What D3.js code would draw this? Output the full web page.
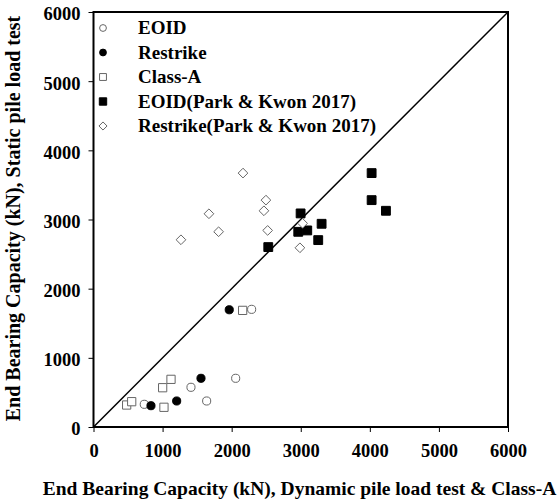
<!DOCTYPE html>
<html>
<head>
<meta charset="utf-8">
<script src="https://cdn.jsdelivr.net/npm/d3@7"></script>
<style>
  html, body { margin: 0; padding: 0; background: #fff; }
  svg text { font-family: "Liberation Serif", "Times New Roman", serif; font-weight: bold; fill: #000; }
</style>
</head>
<body>
<svg id="chart" width="558" height="503"></svg>
<script>
// End bearing capacity: dynamic / Class-A prediction (x) vs static load test (y), kN
const eoidX = [735, 1411, 2058, 1638, 2289];
const eoidY = [328, 574, 704, 376, 1701];

const restrikeX = [832, 1204, 1556, 1965];
const restrikeY = [308, 376, 704, 1695];

const classAX = [480, 553, 1001, 1122, 1020, 2159];
const classAY = [318, 366, 568, 689, 285, 1686];

const parkEoidX = [4026, 4026, 4233, 2998, 3302, 2964, 3094, 3253, 2530];
const parkEoidY = [3671, 3280, 3126, 3088, 2938, 2822, 2842, 2702, 2601];

const parkRestrikeX = [2164, 2496, 2467, 1671, 1811, 1266, 2521, 2988, 3027];
const parkRestrikeY = [3671, 3280, 3126, 3083, 2823, 2707, 2842, 2591, 2944];

const tickValues = [0, 1000, 2000, 3000, 4000, 5000, 6000];
const legendLabels = ["EOID", "Restrike", "Class-A", "EOID(Park & Kwon 2017)", "Restrike(Park & Kwon 2017)"];

const svg = d3.select("#chart");
const plotLeft = 93.5, plotRight = 508, plotTop = 12, plotBottom = 427;

const x = d3.scaleLinear().domain([0, 6000]).range([plotLeft, plotRight]);
const y = d3.scaleLinear().domain([0, 6000]).range([plotBottom, plotTop]);

// 1:1 reference line
svg.append("line")
  .attr("x1", x(0)).attr("y1", y(0))
  .attr("x2", x(6000)).attr("y2", y(6000))
  .attr("stroke", "#000").attr("stroke-width", 1.5);

// axes
const xAxis = svg.append("g").attr("transform", `translate(0,${plotBottom})`)
  .call(d3.axisBottom(x).tickValues(tickValues).tickSize(5).tickFormat(d3.format("d")));
const yAxis = svg.append("g").attr("transform", `translate(${plotLeft},0)`)
  .call(d3.axisLeft(y).tickValues(tickValues).tickSize(5).tickPadding(8).tickFormat(d3.format("d")));
[xAxis, yAxis].forEach(g => {
  g.select(".domain").remove();
  g.selectAll("line").attr("stroke", "#000").attr("stroke-width", 1);
  g.selectAll("text").attr("font-size", 18.5).attr("font-family", null);
});
xAxis.selectAll("text").attr("y", 30).attr("dy", 0);
yAxis.selectAll("text").attr("dy", "0.43em");

// plot frame
svg.append("rect")
  .attr("x", plotLeft).attr("y", plotTop)
  .attr("width", plotRight - plotLeft).attr("height", plotBottom - plotTop)
  .attr("fill", "none").attr("stroke", "#000").attr("stroke-width", 2);

const openStroke = "#666";
const symbols = [
  { xs: eoidX, ys: eoidY, type: d3.symbolCircle, size: 52, fill: "#fff", stroke: openStroke },
  { xs: restrikeX, ys: restrikeY, type: d3.symbolCircle, size: 52, fill: "#000", stroke: "#000" },
  { xs: classAX, ys: classAY, type: d3.symbolSquare, size: 68, fill: "#fff", stroke: openStroke },
  { xs: parkEoidX, ys: parkEoidY, type: d3.symbolSquare, size: 78, fill: "#000", stroke: "#000" },
  { xs: parkRestrikeX, ys: parkRestrikeY, type: d3.symbolDiamond2, size: 60, fill: "#fff", stroke: openStroke }
];

symbols.forEach(s => {
  const pts = s.xs.map((v, i) => [v, s.ys[i]]);
  svg.append("g").selectAll("path").data(pts).join("path")
    .attr("d", d3.symbol(s.type, s.size))
    .attr("transform", d => `translate(${x(d[0])},${y(d[1])})`)
    .attr("fill", s.fill).attr("stroke", s.stroke).attr("stroke-width", 1);
});

// legend
const legend = svg.append("g");
const legendY = [28, 52.5, 77, 101.5, 126];
symbols.forEach((s, i) => {
  legend.append("path")
    .attr("d", d3.symbol(s.type, s.size * 0.7))
    .attr("transform", `translate(103,${legendY[i]})`)
    .attr("fill", s.fill).attr("stroke", s.stroke).attr("stroke-width", 1);
  legend.append("text")
    .attr("x", 138).attr("y", legendY[i] + 6)
    .attr("font-size", 19).text(legendLabels[i]);
});

// axis titles
svg.append("text")
  .attr("x", 299.5).attr("y", 495)
  .attr("text-anchor", "middle").attr("font-size", 19.5)
  .text("End Bearing Capacity (kN), Dynamic pile load test & Class-A");
svg.append("text")
  .attr("transform", `translate(20,218.5) rotate(-90)`)
  .attr("text-anchor", "middle").attr("font-size", 20)
  .text("End Bearing Capacity (kN), Static pile load test");
</script>
</body>
</html>
